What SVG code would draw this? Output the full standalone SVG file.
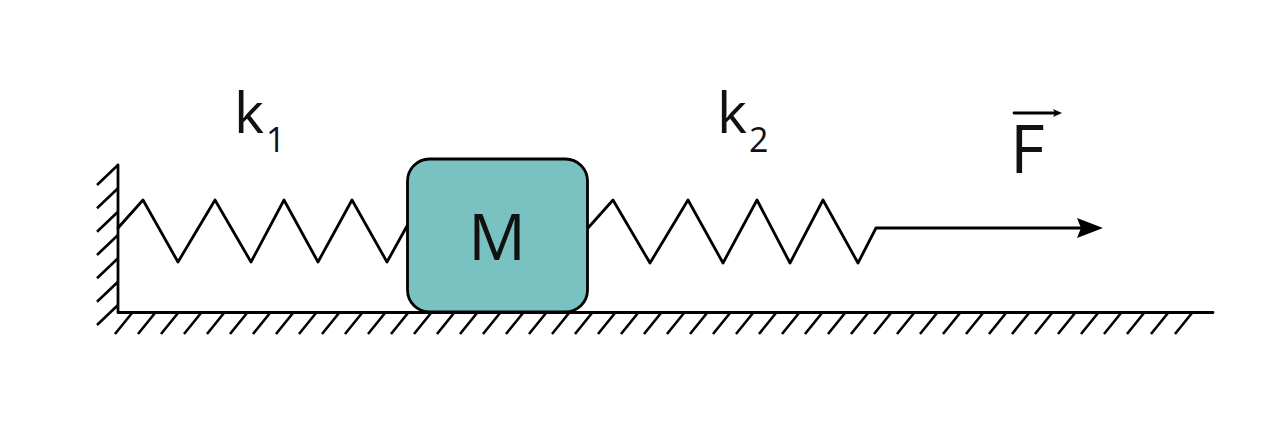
<svg xmlns="http://www.w3.org/2000/svg" width="1280" height="422" viewBox="0 0 1280 422">
<style>
.ln{fill:none;stroke:#000;stroke-width:2.8;stroke-linecap:round;stroke-linejoin:round}
.ht{fill:none;stroke:#000;stroke-width:2.6;stroke-linecap:butt}
.tx{font-family:"Open Sans","Liberation Sans",sans-serif;fill:#111}
</style>
<rect width="1280" height="422" fill="#fff"/>
<g id="ground">
<path class="ln" d="M118,165 V312.5 H1213"/>
<path class="ht" d="M118,165 l-21,20 M118,188.3 l-21,20 M118,211.7 l-21,20 M118,235 l-21,20 M118,258.3 l-21,20 M118,281.7 l-21,20 M118,305 l-21,20"/>
<path class="ht" d="M132,313 l-17,21 M155,313 l-17,21 M178,313 l-17,21 M201,313 l-17,21 M224,313 l-17,21 M247,313 l-17,21 M270,313 l-17,21 M293,313 l-17,21 M316,313 l-17,21 M339,313 l-17,21 M362,313 l-17,21 M385,313 l-17,21 M408,313 l-17,21 M431,313 l-17,21 M454,313 l-17,21 M477,313 l-17,21 M500,313 l-17,21 M523,313 l-17,21 M546,313 l-17,21 M569,313 l-17,21 M592,313 l-17,21 M615,313 l-17,21 M638,313 l-17,21 M661,313 l-17,21 M684,313 l-17,21 M707,313 l-17,21 M730,313 l-17,21 M753,313 l-17,21 M776,313 l-17,21 M799,313 l-17,21 M822,313 l-17,21 M845,313 l-17,21 M868,313 l-17,21 M891,313 l-17,21 M914,313 l-17,21 M937,313 l-17,21 M960,313 l-17,21 M983,313 l-17,21 M1006,313 l-17,21 M1029,313 l-17,21 M1052,313 l-17,21 M1075,313 l-17,21 M1098,313 l-17,21 M1121,313 l-17,21 M1144,313 l-17,21 M1168,313 l-17,21 M1192,313 l-17,21"/>
</g>
<g id="connectors">
<path id="spring1" class="ln" d="M118,228 L143,200 L178,262 L215,200 L251,262 L284,200 L318,262 L352,200 L387,262 L407,226"/>
<path id="spring2" class="ln" d="M588,228 L613,200 L650,263 L688,200 L723,263 L757,200 L790,263 L823,200 L858,263 L876,228 H1082"/>
<polygon points="1103,228 1077,218 1081,228 1077,238" fill="#000"/>
</g>
<g id="mass">
<rect x="407.5" y="159" width="180" height="153" rx="22" ry="22" fill="#79C2C1" stroke="#000" stroke-width="2.8"/>
<text class="tx" x="497" y="260" font-size="64" text-anchor="middle">M</text>
</g>
<g id="label-k1">
<text class="tx" x="234" y="133" font-size="57">k<tspan font-size="34" dy="19" dx="2">1</tspan></text>
</g>
<g id="label-k2">
<text class="tx" x="717" y="133" font-size="57">k<tspan font-size="34" dy="19" dx="2">2</tspan></text>
</g>
<g id="label-F">
<text class="tx" x="1010" y="173" font-size="67">F</text>
<path class="ln" d="M1014,113 H1054" stroke-width="2"/>
<polygon points="1062,113 1053,109 1055,113 1053,117" fill="#000"/>
</g>
</svg>
